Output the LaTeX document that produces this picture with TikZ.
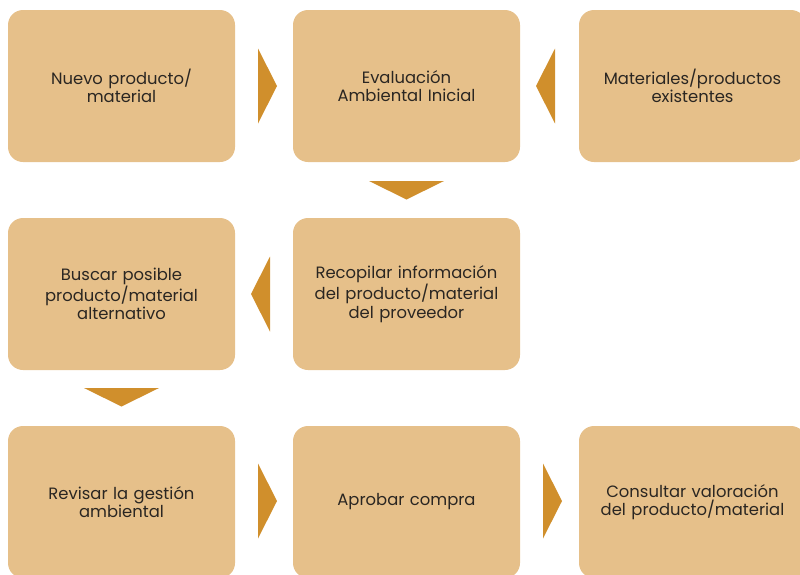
\documentclass[tikz,border=0pt]{standalone}
\usepackage{fontspec}
\setmainfont{Poppins}
\usepackage{xcolor}
\usetikzlibrary{calc}
\usetikzlibrary{positioning}
\definecolor{boxfill}{HTML}{E6C08A}
\definecolor{arrowfill}{HTML}{D08F2C}
\definecolor{textgray}{HTML}{2A2622}

\begin{document}
\begin{tikzpicture}[x=1pt,y=-1pt]
		  \tikzset{box/.style={rectangle,rounded corners=15pt,fill=boxfill,minimum width=227pt,minimum height=152pt,inner sep=0pt,text width=215pt,align=center,text=textgray,font=\fontsize{16.4}{18.6}\selectfont},
		  	tri/.style={fill=arrowfill}}
		  \useasboundingbox (0,0) rectangle (800,574);
		  \clip (0,0) rectangle (800,574);
		  \foreach \x/\y/\alph/\name in {
		  		121.5/86/n1/{Nuevo producto/\\material},
		  		406.5/86/n2/{Evaluación\\Ambiental Inicial},
		  		692.5/86/n3/{Materiales/productos\\existentes},
		  		121.5/294/n4/{Buscar posible\\producto/material\\alternativo},
		  		406.5/294/n5/{Recopilar información\\del producto/material\\del proveedor},
		  		121.5/502/n6/{Revisar la gestión\\ambiental},
		  		406.5/502/n7/{Aprobar compra},
		  		692.5/502/n8/{Consultar valoración\\del producto/material}
		  }{
		  	\node[box] (\alph) at (\x,\y) {\name};
		  }
		  % arrows pointing right
		  \foreach \x/\y in {258/86,258/501,543/501}{
		  	\fill[tri] (\x,\y-37.5) -- (\x+19,\y) -- (\x,\y+37.5) -- cycle;
		  }
		  % arrows pointing left
		  \foreach \x/\y in {536/86,251/294}{
		  	\fill[tri] (\x+19,\y-37.5) -- (\x,\y) -- (\x+19,\y+37.5) -- cycle;
		  }
		  % arrows pointing down
		  \foreach \x/\y in {406.5/181,121.5/388}{
		  	\fill[tri] (\x-37.5,\y) -- (\x,\y+18.5) -- (\x+37.5,\y) -- cycle;
		  }
\end{tikzpicture}
\end{document}
